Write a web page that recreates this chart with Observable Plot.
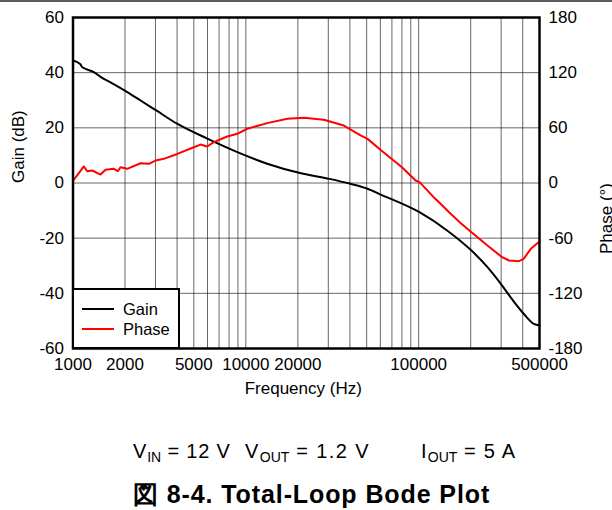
<!DOCTYPE html>
<html><head><meta charset="utf-8">
<script src="https://cdn.jsdelivr.net/npm/d3@7"></script>
<script src="https://cdn.jsdelivr.net/npm/@observablehq/plot@0.6"></script>
<style>
body{margin:0;background:#fff;font-family:"Liberation Sans",Arial,sans-serif;}
#wrap{position:relative;width:612px;height:510px;overflow:hidden;background:#fff;}
#topline{position:absolute;left:0;top:0;width:612px;height:0;border-top:2px solid #5a5a5a;z-index:3;}
#chart{position:absolute;left:0;top:0;}
#legend{position:absolute;left:72px;top:288px;width:108px;height:61px;box-sizing:border-box;border:2.5px solid #000;background:#fff;}
.lg{position:absolute;left:8px;height:0;width:32px;border-top:2.5px solid #000;}
.lt{position:absolute;left:49px;font-size:16.5px;line-height:16px;color:#000;}
#cap{position:absolute;top:440px;left:0;width:612px;height:26px;font-size:20px;color:#000;}
#cap span.c{position:absolute;top:0;letter-spacing:0.8px;white-space:nowrap;}
#cap sub{font-size:14px;vertical-align:-4px;line-height:0;letter-spacing:0;}
#title{position:absolute;top:478px;left:133px;font-size:25px;font-weight:bold;letter-spacing:0.9px;white-space:nowrap;}
</style></head>
<body>
<div id="wrap">
  <div id="topline"></div>
  <div id="chart"></div>
  <div id="legend">
    <div class="lg" style="top:18px;border-color:#000"></div>
    <div class="lt" style="top:11px">Gain</div>
    <div class="lg" style="top:38px;border-color:#ff0000"></div>
    <div class="lt" style="top:31px">Phase</div>
  </div>
  <div id="cap">
    <span class="c" style="left:133px">V<sub>IN</sub> = 12 V</span>
    <span class="c" style="left:245px;letter-spacing:1.4px">V<sub>OUT</sub> = 1.2 V</span>
    <span class="c" style="left:421px;letter-spacing:1.2px">I<sub>OUT</sub> = 5 A</span>
  </div>
  <div id="title">図 8-4. Total-Loop Bode Plot</div>
</div>
<script>
// Gain curve (dB) vs frequency (Hz)
const gainFreq = [1000,1057,1105,1130,1181,1320,1475,1648,1995,2460,3030,4000,6030,8930,13300,20300,30500,40200,50600,60800,101000,146000,202000,250000,304000,340000,405000,464000,500000];
const gainDb   = [44.4,43.8,43.0,42.0,41.4,40.2,38.1,36.5,33.5,29.9,26.3,21.5,16.0,11.2,7.0,3.7,1.5,-0.3,-2.1,-4.3,-10.6,-17.2,-24.5,-30.5,-37.2,-41.4,-47.4,-51.1,-51.7];

// Phase curve (degrees) vs frequency (Hz)
const phaseFreq = [1000,1057,1155,1208,1292,1443,1542,1722,1817,1883,2059,2459,2746,3001,3352,4008,5000,5468,5977,6530,7800,8918,10190,13300,17370,21660,28270,36900,46100,50600,60800,80000,95900,101200,122000,128000,153000,176000,202000,250000,304000,333000,380000,405000,445000,500000];
const phaseDeg  = [2.7,8.2,18,12.8,13.6,9.2,14.3,15.4,12.8,17.2,15.4,21.5,20.9,24.4,26.3,31.6,38.9,41.8,39.7,44.4,50.6,53.5,59,65.1,69.9,71,68.7,62.5,51.7,48,35.3,17.2,2.7,0.9,-15.4,-19,-33.5,-44,-53.5,-68,-80.7,-84.3,-85,-82.5,-71.6,-63.6];

// Axes
const xTickLabels = [1000,2000,5000,10000,20000,100000,500000];
const gainTicks = [-60,-40,-20,0,20,40,60];
const phaseTicks = [-180,-120,-60,0,60,120,180];
const gridFreqs = [2000,3000,4000,5000,6000,7000,8000,9000,10000,20000,30000,40000,50000,60000,70000,80000,90000,100000,200000,300000,400000];
const gridGain = [-40,-20,0,20,40];
const degPerDb = 3; // right axis: 180° spans the same as 60 dB

const gainRows = gainFreq.map((f,i)=>({f, v: gainDb[i]}));
const phaseRows = phaseFreq.map((f,i)=>({f, v: phaseDeg[i]/degPerDb}));

const chart = Plot.plot({
  width: 612, height: 400,
  marginTop: 17, marginBottom: 52, marginLeft: 72.5, marginRight: 73,
  style: {fontFamily: '"Liberation Sans", Arial, sans-serif', fontSize: "17px", color: "#000", background: "transparent"},
  x: {type: "log", domain: [1000, 500000], axis: null},
  y: {domain: [-60, 60], axis: null},
  marks: [
    Plot.ruleX(gridFreqs, {stroke: "#000", strokeOpacity: 0.6, strokeWidth: 1}),
    Plot.ruleY(gridGain, {stroke: "#000", strokeOpacity: 0.6, strokeWidth: 1}),
    Plot.line(gainRows, {x: "f", y: "v", stroke: "#000", strokeWidth: 2, curve: "monotone-x"}),
    Plot.line(phaseRows, {x: "f", y: "v", stroke: "#ff0000", strokeWidth: 2}),
    Plot.frame({stroke: "#000", strokeWidth: 2.5}),
    // x tick labels
    Plot.text(xTickLabels, {x: d => d, text: d => String(d), frameAnchor: "bottom", lineAnchor: "top", dy: 9, fontSize: 17}),
    // left gain tick labels
    Plot.text(gainTicks, {y: d => d, text: d => String(d), frameAnchor: "left", textAnchor: "end", dx: -9, fontSize: 17}),
    // right phase tick labels
    Plot.text(gainTicks, {y: d => d, text: (d, i) => String(phaseTicks[i]), frameAnchor: "right", textAnchor: "start", dx: 9, fontSize: 17}),
    Plot.text(["Gain (dB)"], {text: d => d, frameAnchor: "left", dx: -54, rotate: -90, fontSize: 17, lineAnchor: "middle"}),
    Plot.text(["Phase (°)"], {text: d => d, frameAnchor: "right", dx: 67, rotate: -90, fontSize: 17, lineAnchor: "middle"}),
    Plot.text(["Frequency (Hz)"], {text: d => d, frameAnchor: "bottom", dx: -3, dy: 40, fontSize: 17, lineAnchor: "middle"})
  ]
});
document.getElementById("chart").appendChild(chart);
</script>
</body></html>
